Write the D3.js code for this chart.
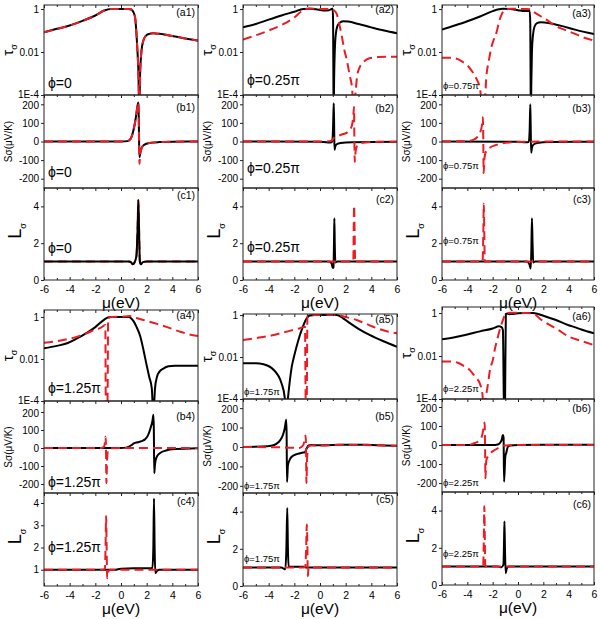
<!DOCTYPE html>
<html><head><meta charset="utf-8">
<script src="https://cdn.jsdelivr.net/npm/d3@7"></script>
<style>body{margin:0;background:#fff}svg{display:block}text{font-family:Arial,"Liberation Sans",sans-serif;fill:#000}</style>
</head><body><svg id="c" width="600" height="619"></svg>
<script>
// ---------------- DATA (μ in eV, value) ----------------
const muTicks = [-6,-4,-2,0,2,4,6];
const muMinor = [-5,-3,-1,1,3,5];
const tauTicks = [1,0.01,1e-4];
const tauTickLabels = ["1","0.01","1E-4"];
const sTicks = [200,100,0,-100,-200];
const lTicks = [0,2,4];
const lTicksC4 = [1,2,3,4];
const phiLabels = ["\u03d5=0","\u03d5=0.25\u03c0","\u03d5=0.75\u03c0","\u03d5=1.25\u03c0","\u03d5=1.75\u03c0","\u03d5=2.25\u03c0"];
const panelTags = ["1","2","3","4","5","6"];

// phi = 0
const tauA1Black = [[-6,0.083],[-5,0.12],[-4,0.17],[-3,0.28],[-2,0.5],[-1.3,0.85],[-0.8,1.0],[0,1.0],[0.6,1.0],[0.8,0.95],[0.95,0.75],[1.1,0.4],[1.2,0.08],[1.28,0.012],[1.35,0.0015],[1.42,0.00003],[1.5,0.0015],[1.6,0.012],[1.75,0.035],[1.95,0.058],[2.2,0.07],[2.5,0.075],[3,0.07],[4,0.055],[5,0.043],[6,0.034]];
const tauA1Red = tauA1Black.map(d=>[d[0],d[1]]);
const sB1Black = [[-6,0],[0,0],[0.5,2],[0.7,10],[0.85,30],[1.0,70],[1.1,105],[1.2,150],[1.28,190],[1.35,210],[1.38,150],[1.41,0],[1.44,-85],[1.5,-60],[1.6,-35],[1.8,-18],[2.2,-8],[3,-3],[4,-1],[6,0]];
const sB1Red = [[-6,0],[0,0],[0.5,2],[0.7,10],[0.85,30],[1.0,70],[1.1,105],[1.2,150],[1.28,190],[1.35,210],[1.38,150],[1.41,0],[1.44,-120],[1.48,-80],[1.6,-38],[1.8,-18],[2.2,-8],[3,-3],[4,-1],[6,0]];
const lC1Black = [[-6,1],[0.6,1],[0.8,0.95],[0.92,0.85],[1.05,0.95],[1.2,1.3],[1.3,3],[1.35,4.35],[1.4,3],[1.47,1.0],[1.55,0.85],[1.7,0.97],[2,1],[6,1]];
const lC1Red = lC1Black.map(d=>[d[0],d[1]]);

// phi = 0.25π
const tauA2Black = [[-6,0.14],[-5,0.2],[-4,0.32],[-3,0.5],[-2,0.75],[-1.3,1.0],[-0.8,1.02],[-0.2,0.95],[0.4,0.85],[0.7,0.88],[0.9,1.0],[0.98,1.05],[1.02,0.3],[1.05,0.0001],[1.07,0.00001],[1.1,0.0005],[1.15,0.01],[1.22,0.06],[1.35,0.16],[1.5,0.22],[1.8,0.27],[2.2,0.26],[3,0.2],[4,0.14],[5,0.1],[6,0.075]];
const tauA2Red = [[-6,0.038],[-5,0.06],[-4,0.1],[-3,0.18],[-2,0.4],[-1.3,0.9],[-0.8,1.05],[0,1.0],[0.9,1.0],[1.1,0.85],[1.3,0.6],[1.5,0.2],[1.7,0.055],[1.9,0.012],[2.1,0.004],[2.3,0.0009],[2.5,0.0002],[2.62,0.00002],[2.75,0.0001],[2.9,0.0008],[3.1,0.002],[3.4,0.0035],[3.8,0.005],[4.5,0.0058],[5.2,0.006],[6,0.006]];
const sB2Black = [[-6,0],[0,-2],[0.5,-4],[0.8,-6],[0.95,0],[1.02,80],[1.07,205],[1.1,100],[1.13,-45],[1.18,-30],[1.3,-15],[1.6,-8],[2.5,-4],[6,-2]];
const sB2Red = [[-6,0],[0.5,0],[0.9,5],[1.1,20],[1.4,30],[1.8,40],[2.1,48],[2.35,65],[2.5,90],[2.6,140],[2.65,185],[2.68,0],[2.71,-110],[2.75,-70],[2.85,-30],[3.1,-12],[3.5,-5],[4.5,-2],[6,-1]];
const lC2Black = [[-6,1],[0.7,1],[0.9,0.9],[1.0,0.65],[1.05,0.7],[1.09,2],[1.12,3.35],[1.15,2],[1.2,0.95],[1.35,1],[6,1]];
const lC2Red = [[-6,1],[2.5,1],[2.6,1.1],[2.63,3],[2.66,4.05],[2.7,2.5],[2.74,0.95],[2.85,1],[6,1]];

// phi = 0.75π
const tauA3Black = [[-6,0.11],[-5,0.17],[-4,0.27],[-3,0.45],[-2,0.8],[-1.2,1.02],[-0.6,1.0],[0,0.88],[0.5,0.8],[0.8,0.82],[0.92,0.85],[0.97,0.2],[1.0,0.0001],[1.02,0.00001],[1.05,0.0003],[1.1,0.01],[1.18,0.06],[1.3,0.15],[1.5,0.22],[1.8,0.24],[2.5,0.22],[3.5,0.16],[4.5,0.11],[6,0.068]];
const tauA3Red = [[-6,0.0054],[-5.2,0.0054],[-4.8,0.0048],[-4.4,0.0036],[-4.0,0.0024],[-3.6,0.0012],[-3.3,0.0006],[-3.0,0.0002],[-2.8,0.00002],[-2.65,0.00003],[-2.5,0.0007],[-2.3,0.004],[-2.1,0.017],[-1.9,0.04],[-1.7,0.08],[-1.5,0.25],[-1.3,0.55],[-1.0,0.95],[-0.6,1.02],[0.5,1.0],[0.95,0.98],[1.3,0.7],[1.7,0.5],[2.2,0.33],[3,0.16],[3.5,0.12],[4.5,0.07],[5.3,0.045],[6,0.034]];
const sB3Black = [[-6,0],[0,-2],[0.6,-4],[0.85,-3],[0.92,60],[0.97,200],[1.0,90],[1.04,-60],[1.1,-35],[1.2,-18],[1.5,-8],[2.5,-3],[6,-1]];
const sB3Red = [[-6,0],[-4,2],[-3.5,10],[-3.2,25],[-3.0,47],[-2.85,85],[-2.77,130],[-2.74,0],[-2.71,-170],[-2.65,-90],[-2.5,-50],[-2.2,-32],[-1.8,-20],[-1.3,-10],[-0.5,-4],[0.5,-1],[6,0]];
const lC3Black = [[-6,1],[0.7,1],[0.9,0.85],[1.0,0.62],[1.05,1.5],[1.1,3.35],[1.15,2],[1.2,0.95],[1.35,1],[6,1]];
const lC3Red = [[-6,1],[-2.8,1],[-2.74,2.5],[-2.7,4.15],[-2.66,2.5],[-2.62,1],[6,1]];

// phi = 1.25π
const tauA4Black = [[-6,0.032],[-5,0.042],[-4.2,0.056],[-3.5,0.09],[-2.7,0.17],[-2,0.33],[-1.5,0.6],[-1.1,0.9],[-0.8,1.0],[0.6,1.0],[0.8,0.85],[1.0,0.6],[1.2,0.35],[1.5,0.12],[1.75,0.027],[2.0,0.005],[2.2,0.0014],[2.4,0.0004],[2.52,0.00002],[2.65,0.0004],[2.8,0.0014],[3.0,0.0025],[3.3,0.0035],[3.7,0.0045],[4.2,0.0048],[5,0.0048],[6,0.0048]];
const tauA4Red = [[-6,0.06],[-5,0.07],[-4.2,0.087],[-3.5,0.11],[-2.7,0.165],[-2,0.25],[-1.6,0.3],[-1.3,0.4],[-1.22,0.42],[-1.19,0.0001],[-1.15,0.00001],[-1.05,0.0001],[-1.0,0.9],[-0.7,1.0],[0,1.03],[0.7,1.1],[1.2,0.9],[2,0.65],[2.8,0.47],[3.6,0.33],[4.6,0.2],[5.3,0.15],[6,0.125]];
const sB4Black = [[-6,0],[0,0],[0.4,2],[0.8,15],[1.0,26],[1.3,32],[1.6,38],[1.9,50],[2.1,70],[2.3,110],[2.45,150],[2.53,185],[2.56,100],[2.59,-140],[2.65,-90],[2.75,-55],[3.0,-30],[3.5,-14],[4.2,-6],[6,-1]];
const sB4Red = [[-6,0],[-1.5,0],[-1.3,10],[-1.2,63],[-1.17,0],[-1.14,-196],[-1.08,-60],[-1.0,-10],[-0.8,-2],[0,0],[6,0]];
const lC4Black = [[-6,1],[-0.5,1],[0,1.05],[1,1.07],[2,1.07],[2.45,1.08],[2.52,2],[2.57,4.2],[2.62,2],[2.67,0.85],[2.8,0.95],[3,1],[6,1]];
const lC4Red = [[-6,1],[-1.4,1],[-1.25,1.05],[-1.2,2.2],[-1.16,3.42],[-1.12,2],[-1.08,0.62],[-1.0,0.9],[-0.85,1],[6,1]];

// phi = 1.75π
const tauA5Black = [[-6,0.005],[-5,0.005],[-4.4,0.0045],[-3.6,0.0024],[-3.0,0.00056],[-2.75,0.00012],[-2.65,0.00001],[-2.55,0.00005],[-2.4,0.0004],[-2.2,0.0035],[-2.0,0.012],[-1.7,0.06],[-1.4,0.22],[-1.1,0.6],[-0.8,0.95],[-0.4,1.0],[1.3,1.0],[1.8,0.7],[2.3,0.42],[3,0.22],[3.9,0.11],[5,0.055],[6,0.031]];
const tauA5Red = [[-6,0.065],[-5,0.08],[-4,0.1],[-3.6,0.112],[-3,0.14],[-2,0.2],[-1.5,0.24],[-1.17,0.28],[-1.12,0.0001],[-1.08,0.00001],[-1.03,0.0001],[-0.98,0.9],[-0.6,1.0],[1.3,1.0],[2,0.8],[2.86,0.58],[3.6,0.38],[4.4,0.24],[5.2,0.17],[6,0.135]];
const sB5Black = [[-6,0],[-4.5,2],[-3.8,6],[-3.4,16],[-3.1,35],[-2.9,60],[-2.75,95],[-2.63,140],[-2.6,60],[-2.57,-180],[-2.5,-95],[-2.34,-63],[-2.1,-45],[-1.82,-37],[-1.4,-30],[-1.17,-26],[-1.05,-10],[-0.9,8],[-0.7,10],[0,9],[1,10],[2,12],[3,12],[4,10],[6,6]];
const sB5Red = [[-6,0],[-3,-2],[-1.6,-5],[-1.3,10],[-1.12,59],[-1.09,0],[-1.06,-186],[-1.0,-50],[-0.9,2],[-0.7,8],[0,8],[2,11],[4,9],[6,6]];
const lC5Black = [[-6,1],[-3,1],[-2.8,0.92],[-2.7,0.9],[-2.62,2],[-2.55,4.2],[-2.5,2],[-2.45,1.05],[-2,1.04],[-1.3,1.04],[-1.1,1],[6,1]];
const lC5Red = [[-6,1],[-1.3,1],[-1.15,1.05],[-1.08,2],[-1.03,3.3],[-0.98,2],[-0.95,0.54],[-0.9,0.9],[-0.8,1],[6,1]];

// phi = 2.25π
const tauA6Black = [[-6,0.06],[-5,0.075],[-4,0.1],[-3,0.14],[-2,0.19],[-1.5,0.24],[-1.3,0.22],[-1.19,0.16],[-1.12,0.0001],[-1.07,0.00001],[-1.02,0.0001],[-0.96,0.9],[-0.85,0.95],[-0.7,0.88],[-0.5,0.9],[0,0.97],[0.5,1.0],[1.2,1.0],[2,0.75],[3,0.47],[4,0.27],[4.6,0.21],[5,0.17],[6,0.115]];
const tauA6Red = [[-6,0.0055],[-5.2,0.0055],[-4.8,0.005],[-4.3,0.0035],[-3.8,0.0022],[-3.4,0.0011],[-3.0,0.0005],[-2.8,0.00015],[-2.7,0.00001],[-2.55,0.0001],[-2.37,0.0005],[-2.2,0.0025],[-2.0,0.006],[-1.8,0.025],[-1.58,0.08],[-1.4,0.2],[-1.2,0.45],[-0.95,0.95],[-0.6,1.03],[0.5,1.0],[1.2,0.95],[1.8,0.5],[2.5,0.28],[3.2,0.16],[4,0.08],[5,0.05],[6,0.032]];
const sB6Black = [[-6,0],[-2,0],[-1.6,3],[-1.45,9],[-1.3,25],[-1.19,53],[-1.14,40],[-1.1,-193],[-1.0,-60],[-0.93,-42],[-0.8,-10],[-0.6,-3],[0,0],[2,2],[4,2],[6,1]];
const sB6Red = [[-6,0],[-4,0],[-3.5,8],[-3.02,26],[-2.8,60],[-2.7,100],[-2.63,118],[-2.6,0],[-2.57,-175],[-2.5,-80],[-2.2,-45],[-1.8,-25],[-1.4,-10],[-1,-2],[0,0],[6,0]];
const lC6Black = [[-6,1],[-1.6,1],[-1.3,0.95],[-1.15,1.1],[-1.1,2.4],[-1.07,3.42],[-1.03,2],[-0.97,0.63],[-0.9,0.85],[-0.75,1],[6,1]];
const lC6Red = [[-6,1],[-2.75,1],[-2.7,2.5],[-2.66,4.23],[-2.62,2.5],[-2.58,1],[6,1]];

// ---------------- table built from the arrays ----------------
const series = {
  a1:[tauA1Black,tauA1Red], b1:[sB1Black,sB1Red], c1:[lC1Black,lC1Red],
  a2:[tauA2Black,tauA2Red], b2:[sB2Black,sB2Red], c2:[lC2Black,lC2Red],
  a3:[tauA3Black,tauA3Red], b3:[sB3Black,sB3Red], c3:[lC3Black,lC3Red],
  a4:[tauA4Black,tauA4Red], b4:[sB4Black,sB4Red], c4:[lC4Black,lC4Red],
  a5:[tauA5Black,tauA5Red], b5:[sB5Black,sB5Red], c5:[lC5Black,lC5Red],
  a6:[tauA6Black,tauA6Red], b6:[sB6Black,sB6Red], c6:[lC6Black,lC6Red]
};

// ---------------- LAYOUT ----------------
const colX = [[44,198],[243,397],[442,594]];
const rowsTop = {a:[5,95],b:[95,188],c:[188,280]};
const rowsBottom = [
  {a:[310,401],b:[401,493],c:[493,586]},
  {a:[314,399],b:[399,493],c:[493,586]},
  {a:[307,399],b:[399,492],c:[492,585]}
];
const tauTopT = 1.54, tauTopB = [2.15,1.12,1.9];
const sDomT = [-250,250], sDomB = [[-250,261],[-237,247],[-247,242]];
const lDomT = [0,5], lDomB = [[0.27,4.45],[0,5],[0,5]];
const phiBig = [true,true,false,true,false,false];
const phiDy = {a:[7,10,6,8,4,7], b:[11,15,19,6,4,6], c:[27,28,36,34,24,28]};
const tagDy = {a:[11,8,12,9,9,13], b:[16,17,17,19,21,13], c:[11,15,15,12,10,16]};
const RED = "#ec1c24";
const FONT = "Arial, Liberation Sans, sans-serif";

const svg = d3.select("#c");
const defs = svg.append("defs");
const kinds = ["a","b","c"];

for (let p=1;p<=6;p++){
  const ci=(p-1)%3, bi=p<=3?0:1;
  const [x0,x1]=colX[ci];
  const rows = bi===0?rowsTop:rowsBottom[ci];
  const x = d3.scaleLinear().domain([-6,6]).range([x0,x1]);
  kinds.forEach(k=>{
    const [t,b]=rows[k];
    let y;
    if(k==="a") y=d3.scaleLog().domain([1e-4, bi?tauTopB[ci]:tauTopT]).range([b,t]);
    else if(k==="b") y=d3.scaleLinear().domain(bi?sDomB[ci]:sDomT).range([b,t]);
    else y=d3.scaleLinear().domain(bi?lDomB[ci]:lDomT).range([b,t]);
    const id=k+p;
    defs.append("clipPath").attr("id","cl"+id).append("rect")
      .attr("x",x0).attr("y",t).attr("width",x1-x0).attr("height",b-t);
    const g=svg.append("g");
    const line=d3.line().x(d=>x(d[0])).y(d=>y(d[1])).curve(d3.curveMonotoneX);
    const [blk,red]=series[id];
    const cg=g.append("g").attr("clip-path",`url(#cl${id})`);
    const drawBlack=()=>cg.append("path").datum(blk).attr("d",line).attr("fill","none").attr("stroke","#000").attr("stroke-width",2).attr("stroke-linejoin","round");
    const drawRed=()=>cg.append("path").datum(red).attr("d",line).attr("fill","none").attr("stroke",RED).attr("stroke-width",2).attr("stroke-dasharray","9,5");
    if(id==="c1"){drawRed();drawBlack();} else {drawBlack();drawRed();}
    // frame
    g.append("rect").attr("x",x0).attr("y",t).attr("width",x1-x0).attr("height",b-t)
      .attr("fill","none").attr("stroke","#222").attr("stroke-width",1);
    // top ticks inward
    const topAx=g.append("g").attr("transform",`translate(0,${t})`)
      .call(d3.axisTop(x).tickValues(muTicks).tickSize(-3).tickFormat(""));
    const topMin=g.append("g").attr("transform",`translate(0,${t})`)
      .call(d3.axisTop(x).tickValues(muMinor).tickSize(-2).tickFormat(""));
    [topAx,topMin].forEach(a=>{a.select(".domain").remove();a.selectAll("line").attr("stroke","#222");});
    if(k==="c"){
      const bx=g.append("g").attr("transform",`translate(0,${b})`)
        .call(d3.axisBottom(x).tickValues(muTicks).tickSize(-3).tickPadding(6).tickFormat(d3.format("d")));
      const bm=g.append("g").attr("transform",`translate(0,${b})`)
        .call(d3.axisBottom(x).tickValues(muMinor).tickSize(-2).tickFormat(""));
      [bx,bm].forEach(a=>{a.select(".domain").remove();a.selectAll("line").attr("stroke","#222");});
      bx.selectAll("text").attr("font-size",10.5).attr("font-family",FONT).attr("fill","#000")
        .text(d=>d<0?"-"+Math.abs(d):d);
      g.append("text").attr("x",(x0+x1)/2).attr("y",b+28).attr("text-anchor","middle")
        .attr("font-size",15.5).attr("fill","#000").text("\u03bc(eV)");
    }
    // left axis
    let ya;
    if(k==="a") ya=d3.axisLeft(y).tickValues(tauTicks).tickFormat((d,i)=>tauTickLabels[i]);
    else if(k==="b") ya=d3.axisLeft(y).tickValues(sTicks).tickFormat(d3.format("d"));
    else ya=d3.axisLeft(y).tickValues(id==="c4"?lTicksC4:lTicks).tickFormat(d3.format("d"));
    const la=g.append("g").attr("transform",`translate(${x0},0)`).call(ya.tickSize(3).tickPadding(2));
    la.select(".domain").remove();
    la.selectAll("line").attr("stroke","#222");
    la.selectAll("text").attr("font-size",10).attr("font-family",FONT).attr("fill","#000")
      .text(function(){return this.textContent.replace("\u2212","-");});
    // keep the 1E-4 and 200 labels from touching at the panel seam
    if(k==="a") la.selectAll("text").filter(d=>d===1e-4).attr("dy","0.2em");
    if(k==="b") la.selectAll("text").filter(d=>d===200).attr("dy","0.42em");
    // y label
    const ym=(t+b)/2;
    if(k==="a"){
      const tx=g.append("text").attr("transform",`translate(${x0-31},${ym}) rotate(-90)`).attr("text-anchor","middle").attr("font-size",15).attr("fill","#000");
      tx.append("tspan").text("\u03c4");
      tx.append("tspan").attr("font-size",9).attr("dy",4).text("\u03c3");
    } else if(k==="b"){
      g.append("text").attr("transform",`translate(${x0-32},${ym}) rotate(-90)`).attr("text-anchor","middle").attr("font-size",10).attr("fill","#000").text("S\u03c3(\u03bcV/K)");
    } else {
      const tx=g.append("text").attr("transform",`translate(${x0-23},${ym-3}) rotate(-90)`).attr("text-anchor","middle").attr("font-size",18).attr("fill","#000");
      tx.append("tspan").text("L");
      tx.append("tspan").attr("font-size",9).attr("dy",5).text("\u03c3");
    }
    // panel tag
    g.append("text").attr("x",x1-3).attr("y",t+tagDy[k][p-1]).attr("text-anchor","end").attr("font-size",10.5).attr("fill","#000").text(`(${k}${panelTags[p-1]})`);
    // phi label
    const big=phiBig[p-1];
    g.append("text").attr("x",x0+(big?4:1)).attr("y",b-phiDy[k][p-1]).attr("font-size",big?14:9.5).attr("fill","#000").text(phiLabels[p-1]);
  });
}
</script></body></html>
